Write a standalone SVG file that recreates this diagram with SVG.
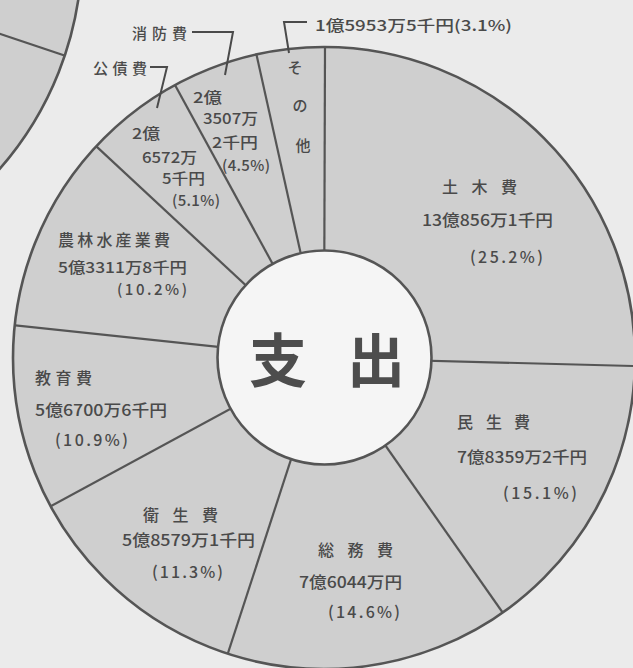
<svg xmlns="http://www.w3.org/2000/svg" width="633" height="668" viewBox="0 0 633 668">
<defs>
<style>
.bg{fill:#ebebeb}
.pie{fill:#cfcfcf}
.rim{fill:none;stroke:#555;stroke-width:2.6}
.div{stroke:#555;stroke-width:2.2;fill:none}
.lead{stroke:#4a4a4a;stroke-width:2;fill:none}
.t{font-family:"Noto Sans CJK JP","Noto Sans",sans-serif;fill:#4a4a4a;font-size:16px;font-weight:500}
.s{font-size:15px}
.big{font-family:"Noto Sans CJK JP","Noto Sans",sans-serif;fill:#4d4d4d;font-size:58px;font-weight:bold}
</style>
<clipPath id="cp"><circle cx="324" cy="358" r="311"/></clipPath>
<clipPath id="cp2"><circle cx="-250" cy="-50" r="332"/></clipPath>
</defs>
<rect class="bg" x="0" y="0" width="633" height="668"/>
<g id="other-chart">
<circle class="pie" cx="-250" cy="-50" r="332"/>
<line class="div" clip-path="url(#cp2)" x1="-250" y1="-50" x2="90" y2="64"/>
<circle class="rim" cx="-250" cy="-50" r="332"/>
</g>
<g id="pie">
<circle class="pie" cx="324" cy="358" r="311"/>
<g id="connectors" clip-path="url(#cp)">
<line class="div" x1="324" y1="358" x2="325.1" y2="17"/>
<line class="div" x1="324" y1="358" x2="250.3" y2="26.9"/>
<line class="div" x1="324" y1="358" x2="160.1" y2="57.7"/>
<line class="div" x1="324" y1="358" x2="74.3" y2="125.9"/>
<line class="div" x1="324" y1="358" x2="-19.2" y2="321.7"/>
<line class="div" x1="324" y1="358" x2="-8.6" y2="538.4"/>
<line class="div" x1="324" y1="358" x2="218.4" y2="682.5"/>
<line class="div" x1="324" y1="358" x2="520.9" y2="638.5"/>
<line class="div" x1="324" y1="358" x2="663.9" y2="366.8"/>
</g>
<circle class="rim" cx="324" cy="358" r="311"/>
</g>
<g id="leaders">
<polyline class="lead" points="192,32 233,32 225,75"/>
<polyline class="lead" points="150,67 167,67 157,108"/>
<polyline class="lead" points="307,22 284,22 289,53"/>
</g>
<g id="center">
<circle cx="324.5" cy="357.5" r="107" fill="#f5f5f5" stroke="#555" stroke-width="2.6"/>
<text class="big" x="278" y="382" text-anchor="middle">支</text>
<text class="big" x="376" y="382" text-anchor="middle">出</text>
</g>
<g id="doboku">
<text class="t" x="442 471.5 501" y="193">土木費</text>
<text class="t" x="422" y="226" textLength="131" lengthAdjust="spacingAndGlyphs">13億856万1千円</text>
<text class="t" x="470" y="263" textLength="73" lengthAdjust="spacing">(25.2%)</text>
</g>
<g id="minsei">
<text class="t" x="457 486 514" y="428">民生費</text>
<text class="t" x="457" y="463" textLength="130" lengthAdjust="spacingAndGlyphs">7億8359万2千円</text>
<text class="t" x="503" y="499" textLength="74" lengthAdjust="spacing">(15.1%)</text>
</g>
<g id="somu">
<text class="t" x="318 347.5 377" y="556">総務費</text>
<text class="t" x="299" y="588" textLength="103" lengthAdjust="spacingAndGlyphs">7億6044万円</text>
<text class="t" x="328" y="618" textLength="72" lengthAdjust="spacing">(14.6%)</text>
</g>
<g id="eisei">
<text class="t" x="143 172.5 202" y="521">衛生費</text>
<text class="t" x="122" y="546" textLength="133" lengthAdjust="spacingAndGlyphs">5億8579万1千円</text>
<text class="t" x="152" y="578" textLength="71" lengthAdjust="spacing">(11.3%)</text>
</g>
<g id="kyoiku">
<text class="t" x="35" y="384" textLength="57" lengthAdjust="spacing">教育費</text>
<text class="t" x="35" y="416" textLength="132" lengthAdjust="spacingAndGlyphs">5億6700万6千円</text>
<text class="t" x="55" y="446" textLength="73" lengthAdjust="spacing">(10.9%)</text>
</g>
<g id="norin">
<text class="t" x="58" y="246" textLength="112" lengthAdjust="spacing">農林水産業費</text>
<text class="t s" x="58" y="273" textLength="129" lengthAdjust="spacingAndGlyphs">5億3311万8千円</text>
<text class="t s" x="117" y="295" textLength="70" lengthAdjust="spacing">(10.2%)</text>
</g>
<g id="kosai">
<text class="t s" x="93" y="74" textLength="54" lengthAdjust="spacing">公債費</text>
<text class="t s" x="132" y="139" textLength="28" lengthAdjust="spacingAndGlyphs">2億</text>
<text class="t s" x="142" y="163" textLength="55" lengthAdjust="spacingAndGlyphs">6572万</text>
<text class="t s" x="162" y="184" textLength="43" lengthAdjust="spacingAndGlyphs">5千円</text>
<text class="t s" x="172" y="206" textLength="48" lengthAdjust="spacing">(5.1%)</text>
</g>
<g id="shobo">
<text class="t s" x="132" y="39" textLength="55" lengthAdjust="spacing">消防費</text>
<text class="t s" x="193" y="103" textLength="29" lengthAdjust="spacingAndGlyphs">2億</text>
<text class="t s" x="203" y="124" textLength="55" lengthAdjust="spacingAndGlyphs">3507万</text>
<text class="t s" x="212" y="148" textLength="46" lengthAdjust="spacingAndGlyphs">2千円</text>
<text class="t s" x="222" y="171" textLength="48" lengthAdjust="spacing">(4.5%)</text>
</g>
<g id="sonota">
<text class="t s" x="295" y="73" text-anchor="middle">そ</text>
<text class="t s" x="300" y="111" text-anchor="middle">の</text>
<text class="t s" x="303" y="151" text-anchor="middle">他</text>
<text class="t s" x="315" y="31" textLength="197" lengthAdjust="spacingAndGlyphs">1億5953万5千円(3.1%)</text>
</g>
</svg>
